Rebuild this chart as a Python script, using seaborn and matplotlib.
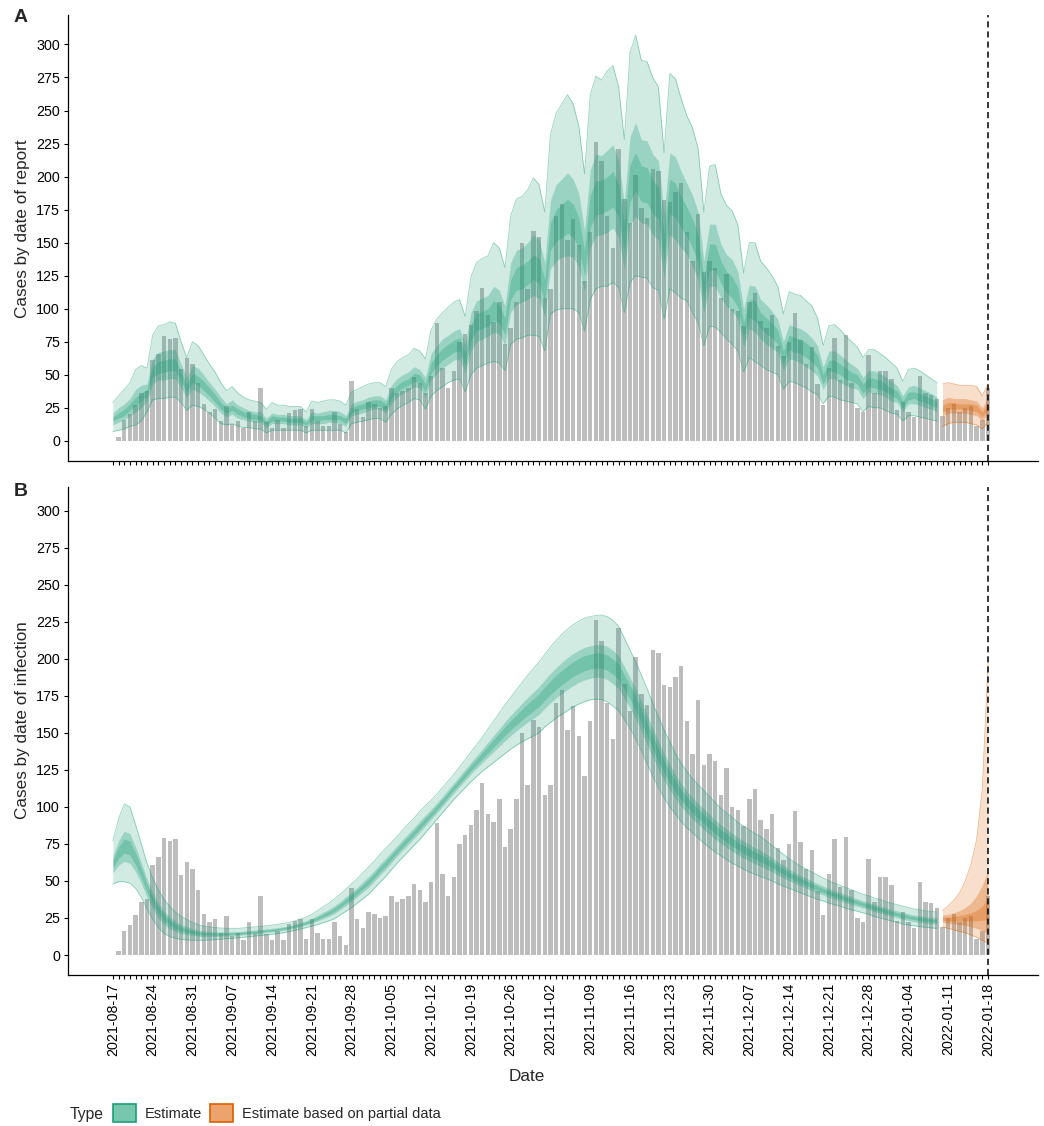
import numpy as np
import pandas as pd
import matplotlib
matplotlib.use("Agg")
import matplotlib.pyplot as plt
import seaborn as sns
from matplotlib.patches import Patch

# Daily reported cases, 2021-08-17 .. 2022-01-18 (day 0 has no bar)
CASES = [0,
         3, 16, 20, 27, 36, 38, 61, 66, 79, 77, 78, 54, 63, 58, 44, 28, 22, 24, 15, 26,
         13, 15, 10, 22, 15, 40, 14, 10, 16, 10, 21, 23, 24, 11, 24, 15, 11, 11,
         22, 13, 7, 45, 24, 18, 29, 28, 25, 26, 40, 36, 38, 40, 48, 44, 36, 49, 89, 55,
         40, 53, 75, 81, 88, 98, 116, 95, 90, 105, 73, 85, 105,
         150, 115, 159, 154,
         108, 115, 170, 179, 152, 168, 148, 121, 158, 226, 212, 170, 146, 221, 183, 165,
         201, 176, 169, 206, 204, 182, 181, 188, 195, 158, 136, 172, 128, 136, 131, 108,
         126, 100, 98, 87, 105, 112, 91, 85,
         95, 72, 64, 75, 97, 76, 58, 71, 43, 27, 55, 78, 46, 80, 44, 25, 22, 65, 36, 53,
         53, 47, 23, 29, 22, 18, 49, 36, 35, 32, 19, 25, 28, 22, 25, 26, 11, 16, 40]

TICK_LABELS = ["2021-08-17", "2021-08-24", "2021-08-31", "2021-09-07", "2021-09-14",
               "2021-09-21", "2021-09-28", "2021-10-05", "2021-10-12", "2021-10-19",
               "2021-10-26", "2021-11-02", "2021-11-09", "2021-11-16", "2021-11-23",
               "2021-11-30", "2021-12-07", "2021-12-14", "2021-12-21", "2021-12-28",
               "2022-01-04", "2022-01-11", "2022-01-18"]

# first day that is "based on partial data"
PARTIAL_START = 146

# Panel A: cases by date of report (credible intervals 90 / 50 / 20)
A_LO90 = [7, 8, 9, 11, 12, 15, 22, 31, 32, 32, 33, 33, 29, 23, 27, 26, 24, 21, 17, 13,
          12, 13, 11, 10, 10, 9, 9, 6, 8, 8, 8, 8, 8, 8, 6, 8, 8, 8, 8, 8,
          8, 6, 13, 14, 15, 16, 17, 17, 14, 20, 24, 27, 29, 32, 31, 24, 34, 38, 41, 44,
          46, 47, 37, 50, 55, 57, 59, 60, 59, 53, 73, 77, 78, 80, 80, 79, 68, 96, 99, 100,
          100, 100, 97, 83, 107, 115, 117, 117, 120, 116, 97, 120, 125, 124, 123, 116, 114, 92, 115, 112,
          108, 106, 97, 89, 72, 87, 86, 82, 77, 73, 68, 52, 63, 60, 57, 54, 52, 50, 39, 45,
          44, 42, 40, 37, 35, 28, 34, 33, 31, 30, 29, 28, 22, 26, 25, 25, 23, 21, 20, 15,
          19, 19, 18, 17, 16, 15,
          11, 13, 14, 14, 14, 13, 12, 9, 14]
A_LO50 = [12, 14, 16, 19, 22, 25, 30, 43, 46, 46, 47, 47, 40, 33, 39, 37, 34, 30, 26, 21,
          18, 20, 17, 16, 15, 14, 14, 10, 13, 13, 13, 12, 12, 12, 10, 13, 13, 13, 14, 14,
          13, 11, 19, 20, 21, 23, 24, 24, 21, 28, 33, 36, 38, 41, 40, 33, 46, 51, 55, 58,
          61, 62, 51, 68, 75, 77, 79, 82, 81, 72, 97, 103, 105, 107, 110, 108, 94, 130, 136, 139,
          140, 139, 132, 113, 146, 155, 156, 158, 161, 154, 130, 163, 170, 165, 164, 156, 152, 123, 156, 152,
          146, 141, 132, 122, 97, 117, 117, 108, 102, 98, 92, 71, 85, 82, 77, 73, 70, 67, 53, 62,
          61, 59, 56, 53, 49, 39, 47, 47, 44, 42, 40, 39, 32, 37, 36, 35, 33, 30, 29, 22,
          28, 28, 27, 25, 24, 22,
          19, 21, 21, 21, 21, 20, 19, 15, 21]
A_LO20 = [15, 17, 19, 23, 27, 30, 34, 48, 51, 52, 53, 53, 45, 37, 44, 42, 38, 34, 29, 24,
          21, 23, 20, 18, 17, 16, 16, 12, 15, 15, 15, 14, 14, 14, 12, 16, 15, 16, 16, 16,
          16, 13, 21, 23, 24, 25, 26, 26, 23, 32, 37, 40, 42, 45, 44, 37, 51, 57, 61, 64,
          67, 68, 57, 76, 83, 85, 87, 91, 89, 80, 107, 114, 115, 118, 122, 119, 105, 144, 151, 154,
          157, 154, 146, 125, 161, 171, 172, 174, 177, 169, 143, 181, 189, 181, 180, 172, 168, 136, 172, 169,
          161, 155, 146, 135, 107, 129, 129, 119, 112, 108, 101, 78, 93, 91, 85, 81, 78, 73, 59, 69,
          67, 66, 63, 60, 55, 43, 53, 52, 50, 47, 45, 43, 36, 41, 40, 39, 37, 34, 32, 25,
          31, 32, 30, 29, 27, 25,
          22, 24, 24, 24, 24, 23, 22, 18, 24]
A_HI20 = [18, 21, 24, 28, 33, 36, 39, 56, 60, 61, 62, 62, 52, 43, 51, 49, 45, 40, 35, 29,
          25, 27, 24, 22, 21, 20, 19, 15, 19, 18, 18, 17, 17, 17, 14, 19, 19, 19, 20, 20,
          19, 17, 25, 27, 28, 30, 31, 31, 28, 37, 42, 45, 47, 51, 50, 43, 59, 65, 70, 73,
          76, 78, 66, 88, 96, 98, 100, 106, 103, 93, 122, 131, 133, 136, 141, 138, 122, 165, 175, 179,
          183, 179, 169, 144, 186, 197, 197, 200, 204, 194, 164, 209, 218, 208, 207, 197, 192, 156, 198, 195,
          185, 177, 168, 156, 123, 149, 149, 136, 128, 124, 116, 90, 107, 106, 97, 93, 89, 84, 68, 80,
          78, 77, 74, 70, 65, 50, 61, 61, 58, 55, 52, 50, 43, 48, 47, 46, 43, 40, 38, 30,
          37, 37, 36, 34, 32, 30,
          27, 29, 29, 28, 28, 28, 27, 22, 29]
A_HI50 = [21, 25, 28, 32, 39, 42, 43, 62, 67, 68, 69, 69, 58, 48, 57, 55, 50, 44, 39, 33,
          28, 31, 27, 25, 23, 22, 22, 17, 21, 20, 20, 19, 19, 19, 16, 22, 21, 22, 23, 23,
          22, 19, 28, 30, 31, 33, 34, 34, 31, 42, 47, 50, 52, 56, 54, 48, 66, 72, 77, 80,
          83, 85, 73, 97, 106, 108, 110, 117, 114, 102, 135, 144, 146, 150, 156, 152, 135, 182, 194, 198,
          203, 198, 187, 159, 205, 217, 216, 220, 224, 212, 180, 230, 241, 228, 227, 217, 212, 172, 218, 215,
          204, 195, 186, 173, 136, 164, 164, 149, 141, 137, 128, 100, 118, 117, 107, 103, 98, 92, 75, 88,
          86, 85, 82, 78, 72, 56, 68, 68, 65, 61, 58, 55, 48, 53, 53, 51, 48, 45, 42, 34,
          41, 42, 40, 38, 36, 33,
          31, 33, 32, 32, 32, 31, 30, 25, 32]
A_HI90 = [29, 34, 39, 44, 54, 57, 55, 80, 87, 88, 90, 89, 75, 63, 75, 72, 65, 58, 52, 44,
          38, 41, 36, 33, 31, 30, 29, 24, 29, 27, 27, 26, 26, 26, 22, 30, 29, 30, 31, 31,
          30, 27, 37, 39, 41, 43, 44, 44, 41, 54, 60, 63, 65, 70, 68, 62, 84, 92, 97, 101,
          105, 107, 94, 124, 135, 138, 140, 150, 146, 131, 170, 183, 185, 190, 199, 194, 173, 232, 248, 255,
          262, 255, 238, 202, 262, 276, 273, 280, 284, 268, 228, 294, 307, 288, 287, 275, 268, 218, 278, 274,
          259, 246, 237, 221, 173, 208, 209, 187, 178, 174, 163, 127, 150, 150, 136, 131, 125, 117, 96, 113,
          111, 110, 106, 102, 93, 72, 87, 88, 84, 79, 75, 71, 63, 69, 69, 66, 63, 59, 55, 45,
          54, 55, 53, 50, 47, 44,
          43, 44, 43, 42, 42, 42, 41, 34, 43]

# Panel B: cases by date of infection
B_LO90 = [48, 49.5, 49.5, 48.5, 45, 39, 31, 24, 18.5, 14.5, 12.5, 11.3, 10.5, 10.2, 10, 10, 10, 10.2, 10.4, 10.7,
          11, 11.3, 11.7, 12, 12.4, 12.8, 13.2, 13.6, 14, 14.5, 15, 15.8, 16.6, 17.5, 18.5, 19.5, 20.5, 21.8, 23, 24.5,
          27, 29.5, 32, 35, 38, 41, 45, 49, 53, 57.5, 62, 66, 70, 74, 78, 82.5, 87, 91.5, 96, 100.5,
          105, 109, 113, 117, 120.5, 124, 127, 130, 133, 136, 139, 141.5, 144, 146, 148, 150, 154, 157, 160, 162.5,
          165, 167.5, 169.5, 171, 172.3, 172.8, 172.5, 171, 168, 165, 159, 153, 146, 138, 129, 121, 113, 106, 100, 95,
          90, 86, 82.5, 79, 75.5, 72.5, 69.5, 67, 64.5, 62, 60, 58, 56, 54.5, 53, 51.5, 50, 48, 46.5, 45,
          43.5, 42, 40.5, 39, 37.5, 36.5, 35, 34, 33, 31.5, 30.5, 29.5, 28.5, 27.5, 26, 25, 24, 23, 22, 21,
          20.3, 19.7, 19.2, 18.7, 18.3, 18,
          19, 18, 17, 16, 15, 13.5, 12, 10, 8]
B_LO50 = [55.5, 60.6, 63.2, 61.9, 56.2, 48.4, 39.1, 31.3, 25.1, 20.5, 17.8, 15.9, 14.5, 13.8, 13.1, 12.7, 12.5, 12.5, 12.5, 12.7,
          12.8, 13, 13.3, 13.6, 14, 14.4, 14.8, 15.2, 15.6, 16.1, 16.6, 17.4, 18.3, 19.2, 20.3, 21.6, 23, 24.6, 26.1, 28,
          30.6, 33.4, 36.2, 39.3, 42.6, 45.8, 49.8, 53.9, 57.9, 62.3, 66.7, 70.8, 74.8, 78.8, 82.9, 87.3, 91.6, 95.9, 100.4, 104.9,
          109.4, 113.7, 117.9, 122.2, 126.1, 130, 133.6, 137.3, 140.9, 144.6, 148.1, 151.3, 154.4, 157.2, 159.8, 162.5, 166.7, 170.3, 173.7, 176.5,
          179.3, 181.9, 184.1, 185.7, 186.9, 187.5, 187.3, 186, 183.1, 179.8, 173.3, 166.8, 159.5, 151.3, 142.3, 133.7, 125.5, 118, 111.4, 105.7,
          100.3, 95.9, 92, 88.4, 84.7, 81.5, 78.2, 75.3, 72.7, 70.1, 67.7, 65.5, 63.4, 61.7, 60, 58.1, 56.2, 54, 52.1, 50.2,
          48.4, 46.7, 45.1, 43.4, 41.8, 40.5, 38.9, 37.8, 36.6, 35.1, 34, 32.9, 31.8, 30.8, 29.3, 28.3, 27.1, 26.1, 25.1, 24.1,
          23.3, 22.6, 22.1, 21.6, 21.2, 20.9,
          22, 21.5, 21, 20.5, 20, 19, 18, 16.5, 15]
B_LO20 = [58.7, 65.2, 68.9, 67.6, 60.9, 52.3, 42.5, 34.4, 28, 23, 20.1, 17.8, 16.2, 15.3, 14.4, 13.9, 13.5, 13.5, 13.4, 13.5,
          13.6, 13.8, 14, 14.3, 14.7, 15.1, 15.5, 15.9, 16.3, 16.8, 17.3, 18.1, 19, 20, 21.1, 22.5, 24, 25.8, 27.4, 29.5,
          32.2, 35.1, 37.9, 41.1, 44.5, 47.8, 51.8, 56, 60, 64.3, 68.7, 72.8, 76.8, 80.8, 85, 89.3, 93.5, 97.8, 102.3, 106.8,
          111.3, 115.7, 120, 124.4, 128.5, 132.5, 136.4, 140.4, 144.3, 148.2, 152, 155.4, 158.8, 161.9, 164.8, 167.8, 172.1, 175.9, 179.4, 182.5,
          185.4, 188, 190.2, 191.9, 193.1, 193.7, 193.6, 192.3, 189.5, 186.1, 179.4, 172.6, 165.2, 156.9, 147.9, 139.1, 130.8, 123, 116.3, 110.2,
          104.6, 100.1, 96, 92.3, 88.6, 85.3, 81.9, 78.8, 76.2, 73.5, 70.9, 68.7, 66.5, 64.7, 63, 60.9, 58.9, 56.5, 54.5, 52.4,
          50.5, 48.7, 47, 45.3, 43.6, 42.2, 40.6, 39.4, 38.2, 36.7, 35.5, 34.3, 33.1, 32.1, 30.6, 29.6, 28.4, 27.4, 26.4, 25.4,
          24.6, 23.9, 23.4, 22.8, 22.4, 22.1,
          23.5, 23, 23, 23, 23, 23, 23, 23.5, 24]
B_HI20 = [64, 72.9, 78.4, 76.8, 68.7, 58.8, 48, 39.4, 32.5, 27.2, 23.8, 21, 19, 17.8, 16.6, 15.8, 15.2, 15, 14.9, 14.8,
          14.9, 15, 15.2, 15.5, 15.9, 16.2, 16.6, 17, 17.4, 17.9, 18.5, 19.2, 20.1, 21.2, 22.4, 23.9, 25.7, 27.7, 29.6, 31.9,
          34.7, 37.8, 40.8, 44.1, 47.6, 51.2, 55.2, 59.5, 63.5, 67.7, 71.9, 76.2, 80.2, 84.2, 88.5, 92.7, 96.6, 100.9, 105.4, 109.9,
          114.4, 118.9, 123.5, 128, 132.3, 136.7, 141, 145.4, 149.8, 154.2, 158.3, 162.1, 166, 169.7, 173, 176.4, 181, 185.1, 188.9, 192.2,
          195.3, 198, 200.3, 202.1, 203.2, 203.9, 203.9, 202.6, 199.9, 196.4, 189.3, 182.2, 174.6, 166.1, 157.1, 148, 139.4, 131.3, 124.2, 117.6,
          111.7, 106.9, 102.6, 98.8, 95, 91.5, 87.9, 84.6, 81.8, 79.1, 76.2, 74, 71.7, 69.6, 67.9, 65.5, 63.2, 60.7, 58.3, 56,
          54, 51.9, 50.1, 48.4, 46.6, 45, 43.3, 42, 40.7, 39.2, 37.9, 36.7, 35.4, 34.4, 32.9, 31.9, 30.6, 29.6, 28.6, 27.6,
          26.7, 25.9, 25.4, 24.8, 24.4, 24.1,
          25.5, 25.5, 26, 26.5, 27.5, 28.5, 30, 33, 39]
B_HI50 = [67, 77.1, 83.6, 82, 73, 62.4, 51.2, 42.2, 35.1, 29.5, 25.8, 22.8, 20.6, 19.2, 17.8, 16.8, 16.2, 15.9, 15.7, 15.6,
          15.6, 15.7, 15.8, 16.1, 16.5, 16.8, 17.2, 17.6, 18, 18.5, 19.1, 19.8, 20.8, 21.9, 23.1, 24.7, 26.7, 28.8, 30.8, 33.3,
          36.1, 39.3, 42.4, 45.7, 49.4, 53, 57, 61.4, 65.4, 69.5, 73.7, 78, 82, 86, 90.4, 94.5, 98.4, 102.6, 107.1, 111.6,
          116.1, 120.7, 125.4, 130, 134.5, 139, 143.6, 148.2, 152.8, 157.5, 161.8, 165.9, 170, 174, 177.6, 181.2, 185.9, 190.2, 194.1, 197.6,
          200.8, 203.6, 205.9, 207.7, 208.8, 209.5, 209.6, 208.4, 205.7, 202.1, 194.8, 187.5, 179.8, 171.2, 162.2, 152.9, 144.2, 135.9, 128.6, 121.7,
          115.7, 110.7, 106.2, 102.4, 98.6, 94.9, 91.3, 87.8, 85, 82.2, 79.2, 76.9, 74.5, 72.4, 70.6, 68.1, 65.6, 63, 60.5, 58,
          55.9, 53.7, 51.9, 50.1, 48.2, 46.6, 44.8, 43.4, 42.1, 40.6, 39.3, 38, 36.6, 35.6, 34.1, 33.1, 31.8, 30.8, 29.8, 28.8,
          27.9, 27, 26.5, 25.9, 25.5, 25.2,
          27, 27.5, 28.5, 30, 32, 35, 40, 47, 57]
B_HI90 = [77, 92, 102, 100, 88, 75, 62, 52, 44, 37.5, 33, 29, 26, 24, 22, 20.5, 19.5, 19, 18.5, 18.2,
          18, 18, 18, 18.3, 18.7, 19, 19.3, 19.7, 20.2, 20.7, 21.3, 22, 23, 24.2, 25.5, 27.5, 30, 32.5, 35, 38,
          41, 44.5, 48, 51.5, 55.5, 59.5, 63.5, 68, 72, 76, 80, 84.5, 88.5, 92.5, 97, 101, 104.5, 108.5, 113, 117.5,
          122, 127, 132, 137, 142, 147, 152.5, 158, 163.5, 169, 174, 179, 184, 189, 193.5, 198, 203, 208, 212.5, 216.5,
          220, 223, 225.5, 227.5, 228.5, 229.3, 229.5, 228.5, 226, 222, 214, 206, 198, 189, 180, 170, 161, 152, 144, 136,
          129.5, 124, 119, 115, 111, 107, 103, 99, 96, 93, 89.5, 87, 84.5, 82, 80, 77, 74, 71, 68, 65,
          62.5, 60, 58, 56, 54, 52, 50, 48.5, 47, 45.5, 44, 42.5, 41, 40, 38.5, 37.5, 36, 35, 34, 33,
          32, 31, 30.5, 29.8, 29.3, 29,
          30, 33, 37, 42, 50, 61, 78, 112, 197]

EST_COL = "#1b9e77"
PART_COL = "#d95f02"
BAR_COL = "#bdbdbd"

FIG_W, FIG_H = 1044, 1126


def draw_panel(ax, bands, ylim, ylabel, show_dates):
    days = np.arange(len(CASES))
    df = pd.DataFrame({"day": days, "cases": CASES})
    sns.barplot(data=df, x="day", y="cases", native_scale=True, color=BAR_COL,
                saturation=1, width=0.78, errorbar=None, linewidth=0, ax=ax, zorder=1)

    lo90, lo50, lo20, hi20, hi50, hi90 = [np.asarray(b, dtype=float) for b in bands]
    parts = [(slice(0, PARTIAL_START), EST_COL), (slice(PARTIAL_START, len(days)), PART_COL)]
    for sl, col in parts:
        x = days[sl]
        ax.fill_between(x, lo90[sl], hi90[sl], color=col, alpha=0.2, lw=0, zorder=2)
        ax.fill_between(x, lo50[sl], hi50[sl], color=col, alpha=0.3, lw=0, zorder=3)
        ax.fill_between(x, lo20[sl], hi20[sl], color=col, alpha=0.3, lw=0, zorder=4)
        ax.plot(x, lo90[sl], color=col, lw=0.6, alpha=0.45, zorder=5)
        ax.plot(x, hi90[sl], color=col, lw=0.6, alpha=0.45, zorder=5)

    ax.axvline(days[-1], color="black", ls=(0, (4, 2.6)), lw=1.1, zorder=6)

    ax.set_xlim(-7.9, 162.8)
    ax.set_ylim(*ylim)
    ax.set_yticks(np.arange(0, 301, 25))
    ax.set_xticks(days)
    labels = [""] * len(days)
    if show_dates:
        for k, lab in enumerate(TICK_LABELS):
            labels[k * 7] = lab
    ax.set_xticklabels(labels, rotation=90, fontsize=10.3)
    ax.tick_params(axis="both", length=3.2, width=0.8, color="black", labelsize=10.3,
                   labelcolor="black", pad=2.5)
    ax.set_ylabel(ylabel, fontsize=12.3)
    ax.yaxis.set_label_coords(-0.039, 0.522)
    if show_dates:
        ax.set_xlabel("Date", fontsize=12.3)
        ax.xaxis.set_label_coords(0.473, -0.193)
    else:
        ax.set_xlabel("")
    for s in ["left", "bottom"]:
        ax.spines[s].set_linewidth(0.9)
        ax.spines[s].set_color("black")
    sns.despine(ax=ax)
    ax.grid(False)


sns.set_theme(style="ticks")
plt.rcParams["font.family"] = ["Liberation Sans", "DejaVu Sans"]

fig = plt.figure(figsize=(FIG_W / 100, FIG_H / 100), dpi=100)
fig.patch.set_facecolor("white")

def fig_rect(left, top, right, bottom):
    return [left / FIG_W, 1 - bottom / FIG_H, (right - left) / FIG_W, (bottom - top) / FIG_H]

ax_a = fig.add_axes(fig_rect(68, 15, 1038, 461))
ax_b = fig.add_axes(fig_rect(68, 487, 1038, 975))

draw_panel(ax_a, [A_LO90, A_LO50, A_LO20, A_HI20, A_HI50, A_HI90], (-15.3, 322.3),
           "Cases by date of report", False)
draw_panel(ax_b, [B_LO90, B_LO50, B_LO20, B_HI20, B_HI50, B_HI90], (-13.5, 316),
           "Cases by date of infection", True)

fig.text(14 / FIG_W, 1 - 18 / FIG_H, "A", fontsize=14, fontweight="bold", va="center", ha="left")
fig.text(14 / FIG_W, 1 - 492 / FIG_H, "B", fontsize=14, fontweight="bold", va="center", ha="left")

# legend at the bottom
fig.text(70 / FIG_W, 1 - 1114 / FIG_H, "Type", fontsize=11.3, va="center", ha="left")
handles = [Patch(facecolor="#76c7ad", edgecolor=EST_COL, linewidth=1.2, label="Estimate"),
           Patch(facecolor="#eda36c", edgecolor=PART_COL, linewidth=1.2,
                 label="Estimate based on partial data")]
fig.legend(handles=handles, loc="center left", bbox_to_anchor=(113 / FIG_W, 1 - 1113 / FIG_H),
           ncol=2, frameon=False, fontsize=10.5, handlelength=1.55, handleheight=1.55,
           handletextpad=0.6, columnspacing=0.6, borderaxespad=0, borderpad=0)

fig.savefig("out.png", dpi=100, facecolor="white")
